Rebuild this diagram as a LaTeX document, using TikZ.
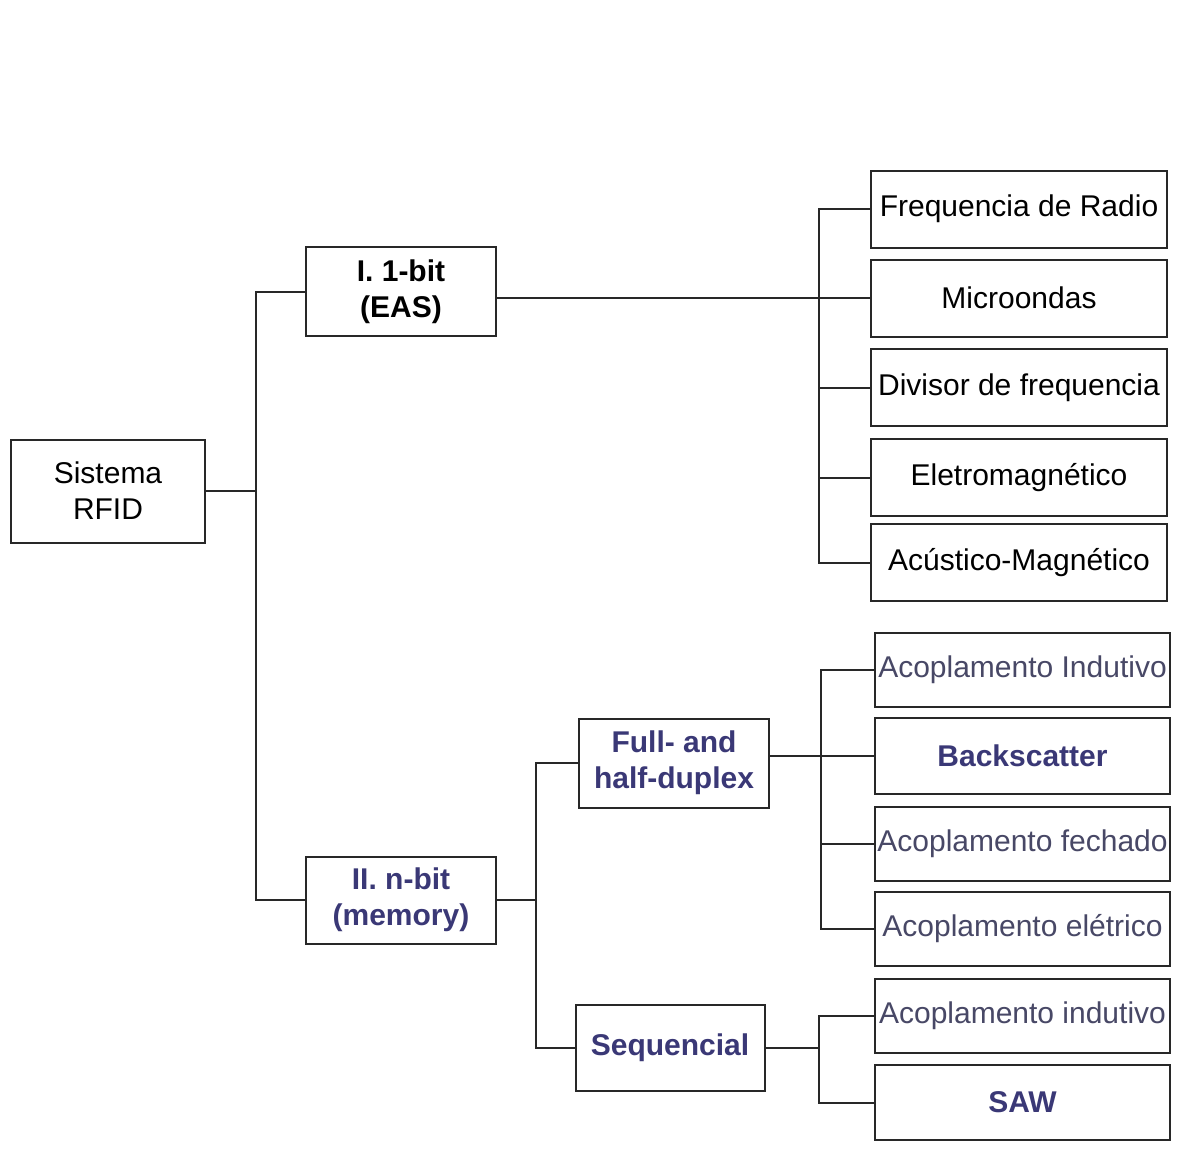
\documentclass[tikz,border=0pt]{standalone}
\usepackage{fontspec}
\setmainfont{Liberation Sans}
\definecolor{ink}{RGB}{40,40,40}
\definecolor{bitblue}{RGB}{58,56,118}
\definecolor{couplegray}{RGB}{72,72,102}
\begin{document}
\begin{tikzpicture}[
        x=1pt,y=-1pt,
        line width=2pt, draw=ink,
        box/.style={draw=ink, line width=2pt, fill=white, inner sep=0pt,
            align=center, font=\fontsize{30}{36}\selectfont},
        midbox/.style={box, minimum width=190pt, minimum height=89pt},
        leaftop/.style={box, minimum width=296pt, minimum height=77pt},
        leafbot/.style={box, minimum width=295pt, minimum height=74pt},
        bluebold/.style={text=bitblue, font=\fontsize{30}{36}\selectfont\bfseries},
        coupling/.style={text=couplegray},
    ]
  \fill[white] (0,0) rectangle (1202,1162);
  \useasboundingbox (0,0) rectangle (1202,1162);

  \node[box, minimum width=194pt, minimum height=103pt] (rfid) at (108,491) {Sistema\\RFID};
  \node[midbox, font=\fontsize{30}{36}\selectfont\bfseries] (eas) at (401,291.5) {I. 1-bit\\(EAS)};
  \node[midbox, minimum height=87pt, bluebold] (nbit) at (401,900) {II. n-bit\\(memory)};
  \node[midbox, bluebold] (duplex) at (674,763) {Full- and\\half-duplex};
  \node[midbox, minimum width=189pt, minimum height=86pt, bluebold] (seq) at (670,1048) {Sequencial};

  \node[leaftop] (freq) at (1019,209) {Frequencia de Radio};
  \node[leaftop] (micro) at (1019,298) {Microondas};
  \node[leaftop] (div) at (1019,387.5) {Divisor de frequencia};
  \node[leaftop] (eletro) at (1019,477.5) {Eletromagnético};
  \node[leaftop] (acust) at (1019,562.5) {Acústico-Magnético};

  \node[leafbot, coupling] (ind1) at (1022.5,669.5) {Acoplamento Indutivo};
  \node[leafbot, minimum height=76pt, bluebold] (back) at (1022.5,756) {Backscatter};
  \node[leafbot, coupling] (fech) at (1022.5,843.5) {Acoplamento fechado};
  \node[leafbot, coupling] (elet) at (1022.5,929) {Acoplamento elétrico};
  \node[leafbot, coupling] (ind2) at (1022.5,1016) {Acoplamento indutivo};
  \node[leafbot, minimum height=75pt, bluebold] (saw) at (1022.5,1102.5) {SAW};

  \draw (rfid.east) -- ++(50,0) coordinate (j1);
  \draw (eas.west) -| (j1) |- (nbit.west);

  \draw (eas.east |- micro) -- (micro.west);
  \draw (freq.west) -- ++(-51,0) coordinate (j2) |- (acust.west);
  \foreach \leaf in {div,eletro}
    \draw (j2 |- \leaf) -- (\leaf.west);

  \draw (duplex.west) -- ++(-42,0) coordinate (j3) |- (seq.west);
  \draw (nbit.east) -- (nbit.east -| j3);

  \draw (duplex.east |- back) -- (back.west);
  \draw (ind1.west) -- ++(-53,0) coordinate (j4) |- (elet.west);
  \draw (j4 |- fech) -- (fech.west);

  \draw (ind2.west) -- ++(-55,0) coordinate (j5) |- (saw.west);
  \draw (seq.east) -- (seq.east -| j5);
\end{tikzpicture}
\end{document}
